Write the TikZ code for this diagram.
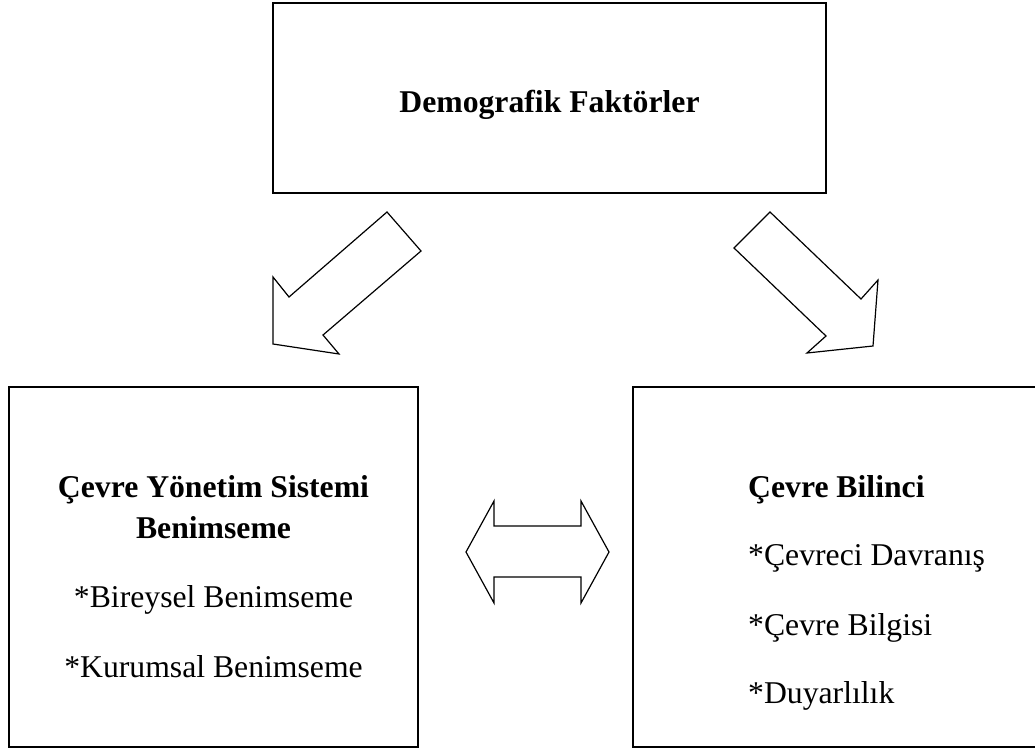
\documentclass[tikz,border=0pt]{standalone}
\usepackage{fontspec}
\setmainfont{Liberation Serif}
\tikzset{
	sqbox/.style={draw, line width=1.6pt, inner sep=0pt},
	blockarrow/.style={draw, line width=1.2pt, line join=miter},
	boxtext/.style={anchor=base, inner sep=0pt, font=\fontsize{31.7}{38}\selectfont},
	boxhead/.style={boxtext, font=\fontsize{31.7}{38}\selectfont\bfseries},
}
\begin{document}
\begin{tikzpicture}[x=1pt, y=-1pt]
	
	\clip (0,0) rectangle (1035,749);
	
	%the three boxes
	\node[sqbox, minimum width=553pt, minimum height=190pt] (demog) at (549.5,98) {};
	\node[sqbox, minimum width=409pt, minimum height=360pt] (cysbox) at (213.5,567) {};
	\node[sqbox, minimum width=409pt, minimum height=360pt] (bilincbox) at (837.5,567) {};
	
	%texts in the boxes
	\node[boxhead] (demogtxt) at (549.5,113) {Demografik Faktörler};
	
	\node[boxhead] (cys1) at (213.5,497) {Çevre Yönetim Sistemi};
	\node[boxhead] (cys2) at (213.5,538) {Benimseme};
	\node[boxtext] (cys3) at (213.5,607) {*Bireysel Benimseme};
	\node[boxtext] (cys4) at (213.5,677) {*Kurumsal Benimseme};
	
	\node[boxhead, anchor=base west] (bil1) at (748,497) {Çevre Bilinci};
	\node[boxtext, anchor=base west] (bil2) at (748,565) {*Çevreci Davranış};
	\node[boxtext, anchor=base west] (bil3) at (748,635) {*Çevre Bilgisi};
	\node[boxtext, anchor=base west] (bil4) at (748,703) {*Duyarlılık};
	
	%block arrows
	\draw[blockarrow] (387,212) -- (421,251) -- (323,335) -- (339,354) -- (273,344) -- (273,277) -- (289,297) -- cycle;
	\draw[blockarrow] (770,212) -- (734,248) -- (826,336) -- (807,353) -- (873,346) -- (878,280) -- (861,299) -- cycle;
	\draw[blockarrow] (466,552) -- (494,501) -- (494,526) -- (581,526) -- (581,501) -- (609,552) -- (581,603) -- (581,577) -- (494,577) -- (494,603) -- cycle;
	
\end{tikzpicture}
\end{document}
